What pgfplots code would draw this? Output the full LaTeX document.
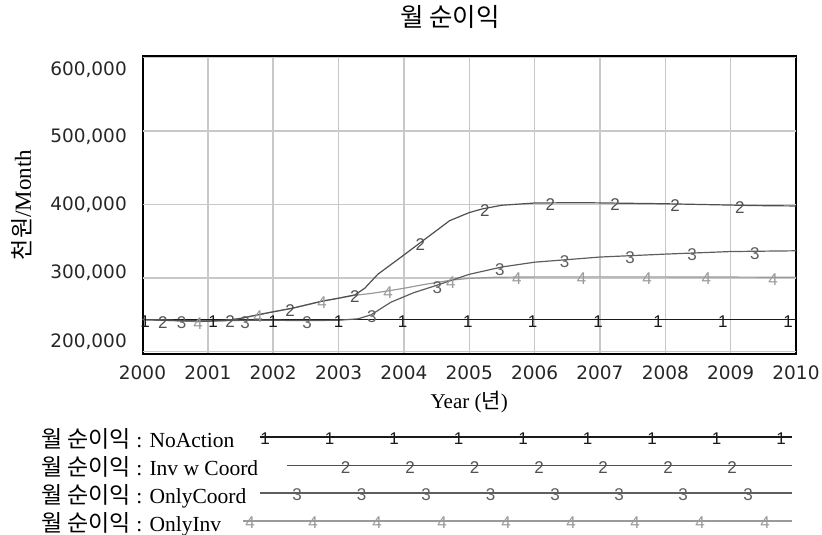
\documentclass[border=0pt]{standalone}
\usepackage{fontspec}
\usepackage{pgfplots}
\pgfplotsset{compat=1.18}

\setmainfont{Liberation Serif}
\newfontfamily\kr{Noto Sans CJK KR}
\newfontfamily\tickfont{DejaVu Sans}
\newfontfamily\digitfont{Liberation Sans}

\definecolor{sOne}{HTML}{1A1A1A}
\definecolor{sTwo}{HTML}{505050}
\definecolor{sThree}{HTML}{5E5E5E}
\definecolor{sFour}{HTML}{9A9A9A}
\definecolor{gridgray}{HTML}{C8C8C8}

% numbered run markers drawn along each curve
\pgfplotsset{
  runmark/.style 2 args={only marks, color=#2, mark=text, text mark={#1},
    text mark as node=true,
    text mark style={font=\digitfont\fontsize{17}{17}\selectfont, text=#2, inner sep=0pt, yshift=-2pt}},
}

\begin{document}
\begin{tikzpicture}
\path[use as bounding box] (0,0) rectangle (822pt,535pt);

% ---------------- main plot ----------------
\begin{axis}[
  at={(142.5pt,181pt)}, anchor=south west,
  scale only axis, width=653.5pt, height=298pt,
  xmin=2000, xmax=2010, ymin=196599, ymax=602041,
  xtick={2000,2001,...,2010},
  xticklabels={2000,2001,2002,2003,2004,2005,2006,2007,2008,2009,2010},
  ytick={212925,306803,399320,491837,582993},
  yticklabels={{200,000},{300,000},{400,000},{500,000},{600,000}},
  extra y ticks={200000,300000,400000,500000,600000},
  extra y tick labels={},
  extra y tick style={grid=major, major tick length=0pt},
  scaled y ticks=false,
  xmajorgrids=true, ymajorgrids=false,
  major grid style={draw=gridgray, line width=1.5pt},
  major tick length=0pt, minor tick num=0,
  axis line style={line width=2pt, black},
  tick label style={font=\tickfont\fontsize{18.5}{19}\selectfont, text=black!85},
  xticklabel style={anchor=north, inner sep=0pt, yshift=-12pt},
  yticklabel style={anchor=east, inner sep=0pt, xshift=-15.5pt},
  title={\kr 월 순이익},
  title style={at={(axis description cs:0.4705,1)}, anchor=center, yshift=33pt,
    font=\fontsize{25.5}{27}\selectfont},
  xlabel={Year ({\kr 년})},
  xlabel style={at={(axis description cs:0.5,0)}, anchor=base, yshift=-55pt,
    font=\fontsize{21}{22}\selectfont},
  ylabel={{\kr 천원}/Month},
  ylabel style={at={(axis description cs:-0.1844,0.5)}, anchor=center, rotate=0,
    font=\fontsize{23}{24}\selectfont},
]

% NoAction
\addplot[sOne, line width=1.6pt] coordinates {(2000,243500) (2010,243500)};
\addplot[runmark={1}{sOne}] coordinates {
  (2000.04,243500) (2001.08,243500) (2002.0,243500) (2003.0,243500) (2003.98,243500)
  (2004.98,243500) (2005.97,243500) (2006.97,243500) (2007.89,243500) (2008.88,243500)
  (2009.88,243500)};

% OnlyInv
\addplot[sFour, line width=1.2pt] coordinates {
  (2000,243500) (2000.5,242000) (2000.85,240500) (2001.3,242500) (2001.5,245000)
  (2001.77,250000) (2002,254000) (2002.3,259000) (2002.75,268500) (2003,272500)
  (2003.25,276500) (2003.5,279000) (2003.76,282500) (2004,286000) (2004.3,291000)
  (2004.72,297000) (2005,299500) (2005.4,301000) (2006,301500) (2008,301500) (2010,301000)};
\addplot[runmark={4}{sFour}] coordinates {
  (2000.85,240500) (2001.77,250000) (2002.75,268500) (2003.76,282500) (2004.72,297000)
  (2005.73,301300) (2006.72,301500) (2007.72,301500) (2008.63,301300) (2009.65,301100)};

% OnlyCoord
\addplot[sThree, line width=1.2pt] coordinates {
  (2000,243500) (2000.6,242000) (2001,241500) (2001.6,242500) (2002,242500)
  (2002.5,242000) (2003,242500) (2003.3,244500) (2003.5,250000) (2003.8,267000)
  (2004.15,280000) (2004.5,290000) (2005,305000) (2005.5,315000) (2006,321500)
  (2007,328500) (2008,332500) (2009,336000) (2010,337000)};
\addplot[runmark={3}{sThree}] coordinates {
  (2000.60,242000) (2001.57,242500) (2002.52,242000) (2003.51,250500) (2004.51,290200)
  (2005.47,314500) (2006.46,324700) (2007.46,330300) (2008.41,333900) (2009.37,336400)};

% Inv w Coord
\addplot[sTwo, line width=1.2pt] coordinates {
  (2000,243500) (2000.5,242000) (2001,241500) (2001.3,242500) (2001.5,245000)
  (2001.77,250000) (2002,254000) (2002.3,259000) (2002.75,268500) (2003,272500)
  (2003.25,277000) (2003.4,286000) (2003.6,305000) (2003.95,328000) (2004.25,348000)
  (2004.7,378000) (2005,389000) (2005.2,394000) (2005.5,399000) (2006,402000)
  (2006.7,402500) (2008,401000) (2009.4,398500) (2010,398000)};
\addplot[runmark={2}{sTwo}] coordinates {
  (2000.31,242500) (2001.34,243000) (2002.26,258000) (2003.25,277000) (2004.25,348000)
  (2005.24,395000) (2006.24,402200) (2007.23,402000) (2008.15,400700) (2009.14,399000)};
\end{axis}

% ---------------- legend (page coordinates, y downward) ----------------
\begin{axis}[
  at={(0pt,0pt)}, anchor=south west,
  scale only axis, width=822pt, height=535pt,
  xmin=0, xmax=822, ymin=0, ymax=535, y dir=reverse,
  hide axis, clip=false,
]
\addplot[sOne, line width=1.6pt] coordinates {(260,437) (792,437)};
\addplot[runmark={1}{sOne}] coordinates {
  (265,437) (329.5,437) (394,437) (458.5,437) (523,437) (587.5,437) (652,437) (716.5,437) (781,437)};

\addplot[sTwo, line width=1.2pt] coordinates {(287,465.5) (792,465.5)};
\addplot[runmark={2}{sTwo}] coordinates {
  (345.5,465.5) (410,465.5) (474.5,465.5) (539,465.5) (603,465.5) (668,465.5) (732,465.5)};

\addplot[sThree, line width=1.2pt] coordinates {(260,493) (792,493)};
\addplot[runmark={3}{sThree}] coordinates {
  (297,493) (361.5,493) (426,493) (490.5,493) (555,493) (619,493) (683,493) (748,493)};

\addplot[sFour, line width=1.2pt] coordinates {(243,521) (792,521)};
\addplot[runmark={4}{sFour}] coordinates {
  (250,521) (313,521) (377,521) (442,521) (506,521) (571,521) (635,521) (700,521) (765,521)};

\begin{scope}[every node/.style={anchor=base west, inner sep=0pt, font=\fontsize{21.5}{24}\selectfont}]
\node at (axis cs:41,447)   {{\kr\fontsize{23}{24}\selectfont 월 순이익} : NoAction};
\node at (axis cs:41,475.5) {{\kr\fontsize{23}{24}\selectfont 월 순이익} : Inv w Coord};
\node at (axis cs:41,503)   {{\kr\fontsize{23}{24}\selectfont 월 순이익} : OnlyCoord};
\node at (axis cs:41,531)   {{\kr\fontsize{23}{24}\selectfont 월 순이익} : OnlyInv};
\end{scope}
\end{axis}
\end{tikzpicture}
\end{document}
